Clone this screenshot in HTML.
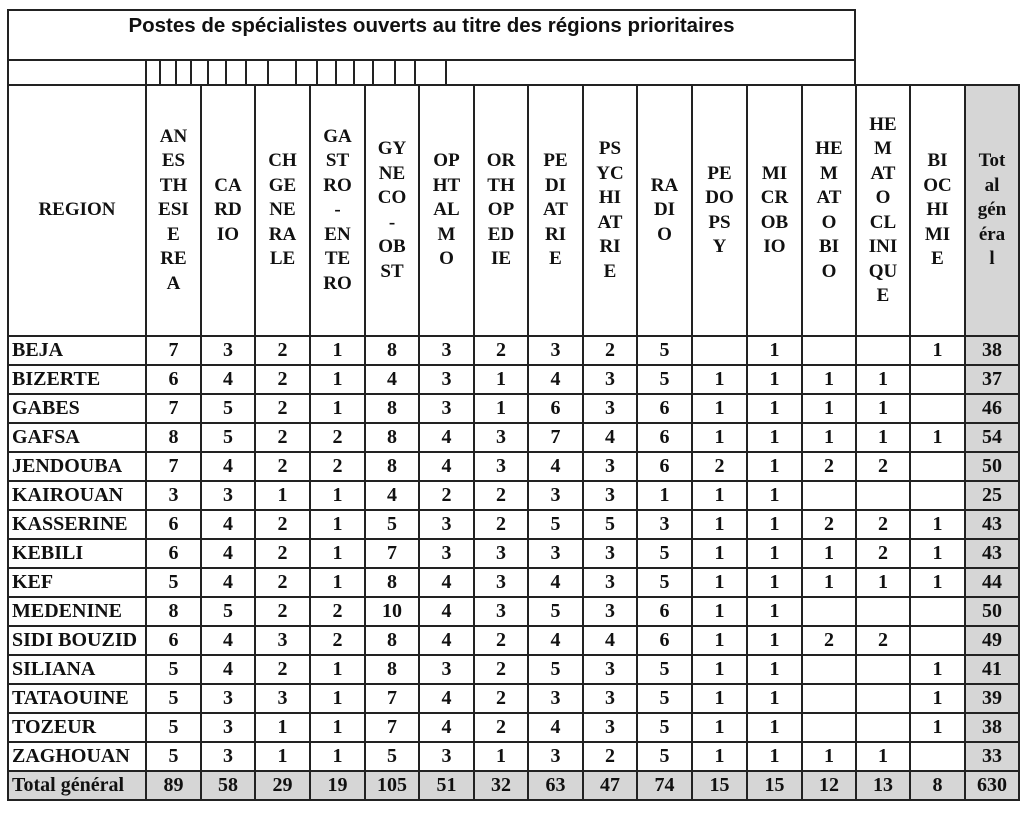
<!DOCTYPE html>
<html><head><meta charset="utf-8"><style>
body{margin:0;background:#fff;width:1021px;height:828px;position:relative;overflow:hidden;font-family:"Liberation Serif",serif;}
.tb{position:absolute;left:7px;top:9px;width:845px;height:73px;border:2px solid #222;}
.tb .t{position:absolute;left:0;right:0;top:3px;text-align:center;font:bold 20.5px "Liberation Sans",sans-serif;color:#111;}
.tb .l{position:absolute;left:0;right:0;top:48px;border-top:2px solid #222;}
.tk{position:absolute;top:59px;height:25px;border-left:2px solid #222;}
table{position:absolute;left:7px;top:84px;border-collapse:collapse;table-layout:fixed;width:1013px;}
td{border:2px solid #222;padding:0;text-align:center;font-weight:bold;font-size:20px;color:#111;height:27px;line-height:27px;overflow:hidden;white-space:nowrap;}
tr.h td{height:249px;font-size:19px;font-weight:bold;line-height:24.5px;vertical-align:middle;}
td.r{text-align:left;padding-left:3px;}
tr.h td.r{text-align:center;padding-left:0;}
.g{background:#d6d6d6;}
</style></head><body>
<div class="tb"><div class="t">Postes de spécialistes ouverts au titre des régions prioritaires</div><div class="l"></div></div>
<div class="tk" style="left:145px"></div><div class="tk" style="left:159px"></div><div class="tk" style="left:175px"></div><div class="tk" style="left:190px"></div><div class="tk" style="left:207px"></div><div class="tk" style="left:225px"></div><div class="tk" style="left:245px"></div><div class="tk" style="left:267px"></div><div class="tk" style="left:295px"></div><div class="tk" style="left:316px"></div><div class="tk" style="left:335px"></div><div class="tk" style="left:353px"></div><div class="tk" style="left:372px"></div><div class="tk" style="left:394px"></div><div class="tk" style="left:414px"></div><div class="tk" style="left:445px"></div>
<table>
<colgroup><col style="width:138px"><col style="width:55px"><col style="width:54px"><col style="width:55px"><col style="width:55px"><col style="width:54px"><col style="width:55px"><col style="width:54px"><col style="width:55px"><col style="width:54px"><col style="width:55px"><col style="width:55px"><col style="width:55px"><col style="width:54px"><col style="width:54px"><col style="width:55px"><col style="width:54px"></colgroup>
<tr class="h"><td class="r">REGION</td><td>AN<br>ES<br>TH<br>ESI<br>E<br>RE<br>A</td><td>CA<br>RD<br>IO</td><td>CH<br>GE<br>NE<br>RA<br>LE</td><td>GA<br>ST<br>RO<br>-<br>EN<br>TE<br>RO</td><td>GY<br>NE<br>CO<br>-<br>OB<br>ST</td><td>OP<br>HT<br>AL<br>M<br>O</td><td>OR<br>TH<br>OP<br>ED<br>IE</td><td>PE<br>DI<br>AT<br>RI<br>E</td><td>PS<br>YC<br>HI<br>AT<br>RI<br>E</td><td>RA<br>DI<br>O</td><td>PE<br>DO<br>PS<br>Y</td><td>MI<br>CR<br>OB<br>IO</td><td>HE<br>M<br>AT<br>O<br>BI<br>O</td><td>HE<br>M<br>AT<br>O<br>CL<br>INI<br>QU<br>E</td><td>BI<br>OC<br>HI<br>MI<br>E</td><td class="g">Tot<br>al<br>gén<br>éra<br>l</td></tr>
<tr><td class="r">BEJA</td><td>7</td><td>3</td><td>2</td><td>1</td><td>8</td><td>3</td><td>2</td><td>3</td><td>2</td><td>5</td><td></td><td>1</td><td></td><td></td><td>1</td><td class="g">38</td></tr>
<tr><td class="r">BIZERTE</td><td>6</td><td>4</td><td>2</td><td>1</td><td>4</td><td>3</td><td>1</td><td>4</td><td>3</td><td>5</td><td>1</td><td>1</td><td>1</td><td>1</td><td></td><td class="g">37</td></tr>
<tr><td class="r">GABES</td><td>7</td><td>5</td><td>2</td><td>1</td><td>8</td><td>3</td><td>1</td><td>6</td><td>3</td><td>6</td><td>1</td><td>1</td><td>1</td><td>1</td><td></td><td class="g">46</td></tr>
<tr><td class="r">GAFSA</td><td>8</td><td>5</td><td>2</td><td>2</td><td>8</td><td>4</td><td>3</td><td>7</td><td>4</td><td>6</td><td>1</td><td>1</td><td>1</td><td>1</td><td>1</td><td class="g">54</td></tr>
<tr><td class="r">JENDOUBA</td><td>7</td><td>4</td><td>2</td><td>2</td><td>8</td><td>4</td><td>3</td><td>4</td><td>3</td><td>6</td><td>2</td><td>1</td><td>2</td><td>2</td><td></td><td class="g">50</td></tr>
<tr><td class="r">KAIROUAN</td><td>3</td><td>3</td><td>1</td><td>1</td><td>4</td><td>2</td><td>2</td><td>3</td><td>3</td><td>1</td><td>1</td><td>1</td><td></td><td></td><td></td><td class="g">25</td></tr>
<tr><td class="r">KASSERINE</td><td>6</td><td>4</td><td>2</td><td>1</td><td>5</td><td>3</td><td>2</td><td>5</td><td>5</td><td>3</td><td>1</td><td>1</td><td>2</td><td>2</td><td>1</td><td class="g">43</td></tr>
<tr><td class="r">KEBILI</td><td>6</td><td>4</td><td>2</td><td>1</td><td>7</td><td>3</td><td>3</td><td>3</td><td>3</td><td>5</td><td>1</td><td>1</td><td>1</td><td>2</td><td>1</td><td class="g">43</td></tr>
<tr><td class="r">KEF</td><td>5</td><td>4</td><td>2</td><td>1</td><td>8</td><td>4</td><td>3</td><td>4</td><td>3</td><td>5</td><td>1</td><td>1</td><td>1</td><td>1</td><td>1</td><td class="g">44</td></tr>
<tr><td class="r">MEDENINE</td><td>8</td><td>5</td><td>2</td><td>2</td><td>10</td><td>4</td><td>3</td><td>5</td><td>3</td><td>6</td><td>1</td><td>1</td><td></td><td></td><td></td><td class="g">50</td></tr>
<tr><td class="r">SIDI BOUZID</td><td>6</td><td>4</td><td>3</td><td>2</td><td>8</td><td>4</td><td>2</td><td>4</td><td>4</td><td>6</td><td>1</td><td>1</td><td>2</td><td>2</td><td></td><td class="g">49</td></tr>
<tr><td class="r">SILIANA</td><td>5</td><td>4</td><td>2</td><td>1</td><td>8</td><td>3</td><td>2</td><td>5</td><td>3</td><td>5</td><td>1</td><td>1</td><td></td><td></td><td>1</td><td class="g">41</td></tr>
<tr><td class="r">TATAOUINE</td><td>5</td><td>3</td><td>3</td><td>1</td><td>7</td><td>4</td><td>2</td><td>3</td><td>3</td><td>5</td><td>1</td><td>1</td><td></td><td></td><td>1</td><td class="g">39</td></tr>
<tr><td class="r">TOZEUR</td><td>5</td><td>3</td><td>1</td><td>1</td><td>7</td><td>4</td><td>2</td><td>4</td><td>3</td><td>5</td><td>1</td><td>1</td><td></td><td></td><td>1</td><td class="g">38</td></tr>
<tr><td class="r">ZAGHOUAN</td><td>5</td><td>3</td><td>1</td><td>1</td><td>5</td><td>3</td><td>1</td><td>3</td><td>2</td><td>5</td><td>1</td><td>1</td><td>1</td><td>1</td><td></td><td class="g">33</td></tr>
<tr class="g"><td class="r">Total général</td><td>89</td><td>58</td><td>29</td><td>19</td><td>105</td><td>51</td><td>32</td><td>63</td><td>47</td><td>74</td><td>15</td><td>15</td><td>12</td><td>13</td><td>8</td><td>630</td></tr>
</table>
</body></html>
